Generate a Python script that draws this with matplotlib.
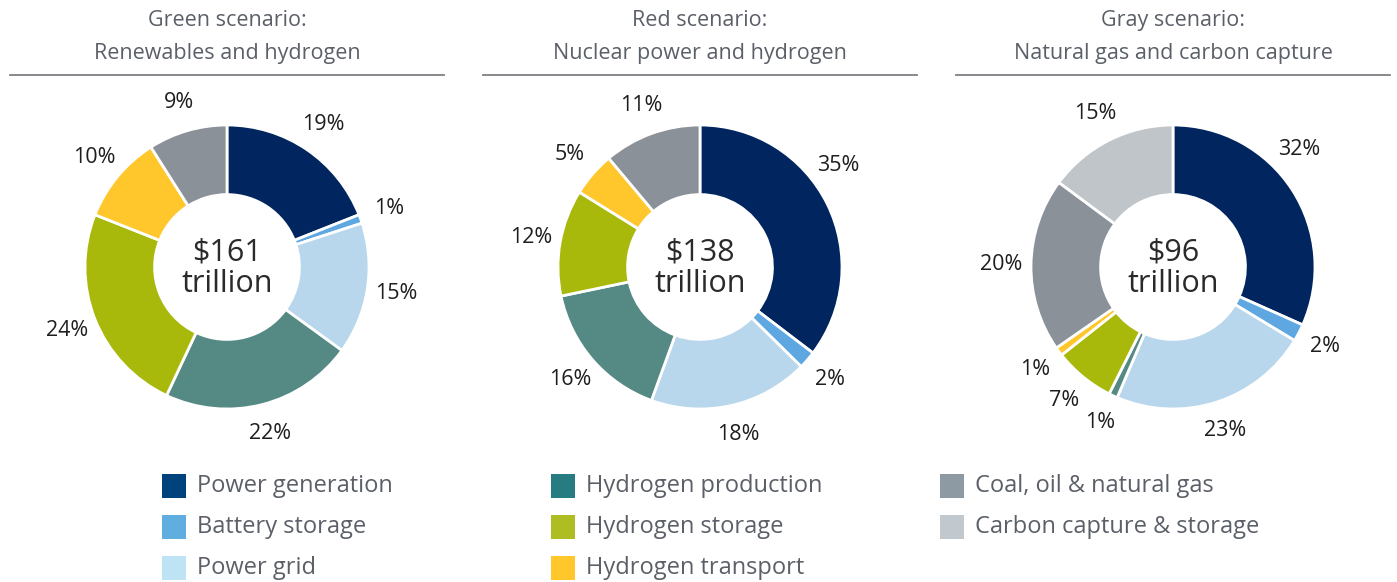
import numpy as np
import matplotlib.pyplot as plt
from matplotlib.patches import Rectangle

plt.rcParams['font.family'] = ['Open Sans', 'DejaVu Sans']

# categories, in pie order (clockwise from the top)
categories = ["Power generation", "Battery storage", "Power grid",
              "Hydrogen production", "Hydrogen storage", "Hydrogen transport",
              "Coal, oil & natural gas", "Carbon capture & storage"]

titles = ["Green scenario:\nRenewables and hydrogen",
          "Red scenario:\nNuclear power and hydrogen",
          "Gray scenario:\nNatural gas and carbon capture"]
totals = ["$161\ntrillion", "$138\ntrillion", "$96\ntrillion"]

green = [19, 1, 15, 22, 24, 10, 9, 0]
red = [35, 2, 18, 16, 12, 5, 11, 0]
gray = [32, 2, 23, 1, 7, 1, 20, 15]
scenarios = [green, red, gray]

pie_colors = ["#00255f", "#5ea7e0", "#b9d7ec", "#558a84",
              "#a9b90b", "#ffc72c", "#8a9199", "#c0c5ca"]
legend_colors = ["#00437c", "#60ade0", "#bde3f5", "#267c80",
                 "#aebd22", "#ffc72c", "#8e9aa3", "#c1c8ce"]

W, H = 1397, 582
fig = plt.figure(figsize=(W / 100, H / 100), dpi=100)
ax = fig.add_axes([0, 0, 1, 1])

centers_x = [227, 700, 1173]
cy = H - 267
R = 142

for i, vals in enumerate(scenarios):
    vals = np.array(vals, dtype=float)
    keep = vals > 0
    wedges, _ = ax.pie(vals[keep], colors=np.array(pie_colors)[keep],
                       startangle=90, counterclock=False,
                       center=(centers_x[i], cy), radius=R,
                       wedgeprops=dict(width=R * 0.49, edgecolor="white", linewidth=2))
    for w, v in zip(wedges, vals[keep]):
        ang = np.deg2rad((w.theta1 + w.theta2) / 2)
        r = 1.21 * R
        if v >= 30:
            ang += np.deg2rad(10)
        ax.text(centers_x[i] + r * np.cos(ang), cy + r * np.sin(ang), f"{int(v)}%",
                ha="center", va="center", fontsize=15.5, color="#1e1e1e")
    ax.text(centers_x[i], cy - 1, totals[i], ha="center", va="center",
            fontsize=22, color="#2a2a2a", linespacing=1.05)

    # title and rule
    ax.text(centers_x[i], H - 37, titles[i], ha="center", va="center",
            fontsize=15.5, color="#5b6068", linespacing=1.7)
    ax.plot([centers_x[i] - 217, centers_x[i] + 217], [H - 75, H - 75],
            color="#7d7f83", lw=1.3)

# legend in three columns
col_x = [162, 551, 940]
row_y = [486, 527, 568]
for k, name in enumerate(categories):
    c, r = divmod(k, 3)
    x, y = col_x[c], H - row_y[r]
    ax.add_patch(Rectangle((x, y - 12), 24, 24, color=legend_colors[k], lw=0))
    ax.text(x + 35, y, name, ha="left", va="center", fontsize=17, color="#5b6068")

ax.set_xlim(0, W)
ax.set_ylim(0, H)
ax.set_aspect("auto")
ax.axis("off")

fig.savefig("out.png", dpi=100)
